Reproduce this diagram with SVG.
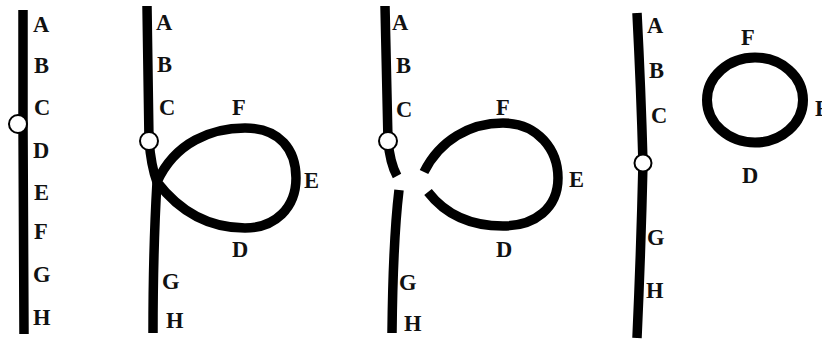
<svg xmlns="http://www.w3.org/2000/svg" width="822" height="344" viewBox="0 0 822 344">
<style>
.chr{fill:none;stroke:#000;stroke-width:9.5;stroke-linecap:butt;stroke-linejoin:round}
.cen{fill:#fff;stroke:#000;stroke-width:2}
text{font-family:"Liberation Serif","Times New Roman",serif;font-weight:bold;font-size:22.5px;fill:#111}
</style>
<rect width="822" height="344" fill="#fff"/>
<g id="panel1">
<path class="chr" d="M23,10 L23,124 L24,334"/>
<circle class="cen" cx="18" cy="124" r="9"/>
<text x="33" y="32">A</text>
<text x="34" y="73">B</text>
<text x="34" y="115">C</text>
<text x="33" y="158">D</text>
<text x="34" y="200">E</text>
<text x="34" y="239">F</text>
<text x="33" y="282">G</text>
<text x="33" y="325">H</text>
</g>
<g id="panel2">
<path class="chr" d="M147,6 L149,140 Q151,166 157,182 Q153,250 153,333"/>
<path class="chr" d="M157,182 C175,142 212,128 245,128 C280,128 296,150 296,178 C296,208 275,228 245,228 C210,228 180,212 157,182 Z"/>
<circle class="cen" cx="149" cy="141" r="9"/>
<text x="156" y="30">A</text>
<text x="157" y="72">B</text>
<text x="159" y="115">C</text>
<text x="232" y="115">F</text>
<text x="304" y="188">E</text>
<text x="232" y="257">D</text>
<text x="162" y="289">G</text>
<text x="166" y="328">H</text>
</g>
<g id="panel3">
<path class="chr" d="M385,6 L388,141 Q390,163 397,176"/>
<path class="chr" d="M399,190 Q393,240 392,333"/>
<path class="chr" d="M424,172 C440,140 470,123 503,123 C538,123 558,150 558,178 C558,208 535,226 503,226 C470,226 445,214 428,192"/>
<circle class="cen" cx="388" cy="141" r="9"/>
<text x="392" y="30">A</text>
<text x="396" y="73">B</text>
<text x="396" y="117">C</text>
<text x="496" y="115">F</text>
<text x="569" y="187">E</text>
<text x="496" y="257">D</text>
<text x="399" y="290">G</text>
<text x="404" y="331">H</text>
</g>
<g id="panel4">
<path class="chr" d="M637,13 Q641,90 643,163 Q641,250 637,338"/>
<circle class="cen" cx="643" cy="163" r="8.5"/>
<ellipse class="chr" cx="755" cy="100" rx="48" ry="42.5" style="stroke-width:10"/>
<text x="647" y="33">A</text>
<text x="649" y="78">B</text>
<text x="651" y="123">C</text>
<text x="647" y="245">G</text>
<text x="646" y="298">H</text>
<text x="741" y="45">F</text>
<text x="742" y="183">D</text>
<text x="815" y="116">E</text>
</g>
</svg>
